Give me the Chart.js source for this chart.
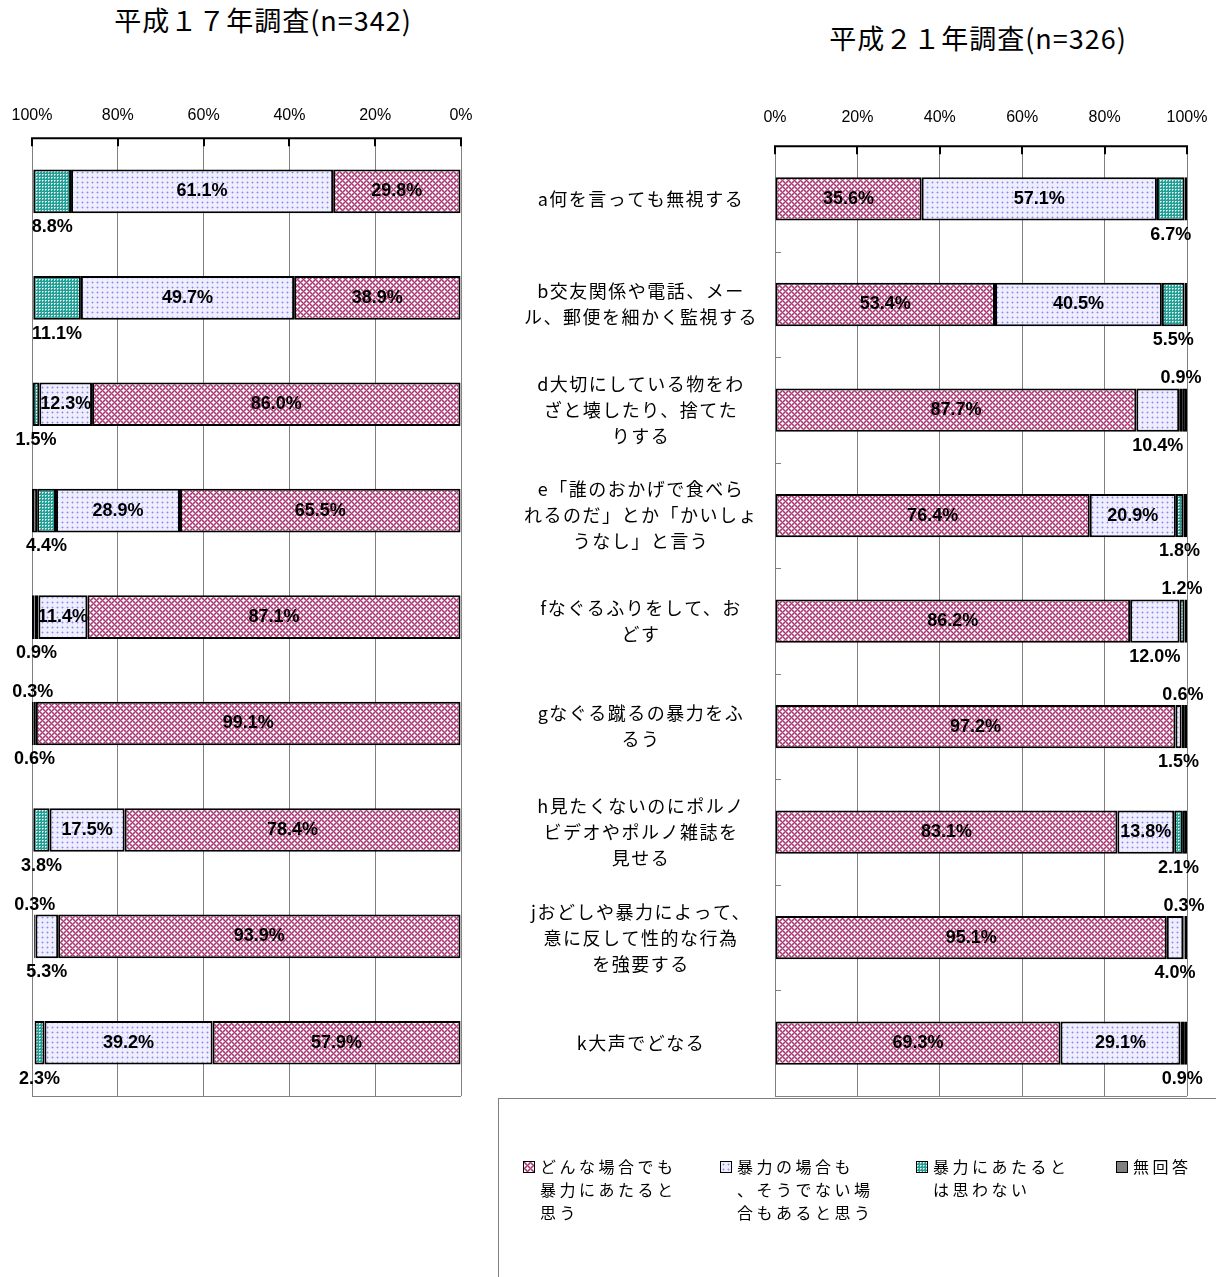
<!DOCTYPE html>
<html><head><meta charset="utf-8">
<script src="https://cdn.jsdelivr.net/npm/chart.js@4.4.1/dist/chart.umd.min.js"></script>
<style>
body{margin:0;background:#fff;width:1216px;height:1277px;overflow:hidden;position:relative;font-family:"Noto Sans CJK JP",sans-serif;color:#000;}
.title{position:absolute;font-size:27px;letter-spacing:1px;white-space:nowrap;transform:translateX(-50%);line-height:30px;}
#cl{position:absolute;left:0;top:0;}
#cr{position:absolute;left:500px;top:0;}
#legend{position:absolute;left:498px;top:1098px;width:740px;height:200px;border-top:1px solid #808080;border-left:1px solid #808080;}
.item{position:absolute;top:56px;font-size:16px;letter-spacing:3.5px;line-height:23px;white-space:nowrap;}
.sw{position:absolute;width:10px;height:10px;border:1px solid #000;left:-17px;top:6px;}
</style>
</head><body>
<div class="title" style="left:263px;top:5px;">平成１７年調査(n=342)</div>
<div class="title" style="left:978px;top:23px;">平成２１年調査(n=326)</div>
<canvas id="cl" width="480" height="1100"></canvas>
<canvas id="cr" width="716" height="1100"></canvas>
<div id="legend">
  <div class="item" style="left:41px"><span class="sw" id="sw0"></span>どんな場合でも<br>暴力にあたると<br>思う</div>
  <div class="item" style="left:238px"><span class="sw" id="sw1"></span>暴力の場合も<br>、そうでない場<br>合もあると思う</div>
  <div class="item" style="left:434px"><span class="sw" id="sw2"></span>暴力にあたると<br>は思わない</div>
  <div class="item" style="left:634px"><span class="sw" id="sw3"></span>無回答</div>
</div>
<script>
// ---------- data ----------
const CATEGORIES = [
  'a何を言っても無視する',
  ['b交友関係や電話、メー', 'ル、郵便を細かく監視する'],
  ['d大切にしている物をわ', 'ざと壊したり、捨てた', 'りする'],
  ['e「誰のおかげで食べら', 'れるのだ」とか「かいしょ', 'うなし」と言う'],
  ['fなぐるふりをして、お', 'どす'],
  ['gなぐる蹴るの暴力をふ', 'るう'],
  ['h見たくないのにポルノ', 'ビデオやポルノ雑誌を', '見せる'],
  ['jおどしや暴力によって、', '意に反して性的な行為', 'を強要する'],
  'k大声でどなる'
];
const SERIES = ['どんな場合でも暴力にあたると思う', '暴力の場合も、そうでない場合もあると思う', '暴力にあたるとは思わない', '無回答'];
const TICK_VALUES = [0, 20, 40, 60, 80, 100];

// 平成17年調査 (n=342)
const H17_ALWAYS    = [29.8, 38.9, 86.0, 65.5, 87.1, 99.1, 78.4, 93.9, 57.9];
const H17_SOMETIMES = [61.1, 49.7, 12.3, 28.9, 11.4, null, 17.5, 5.3, 39.2];
const H17_NOT       = [8.8, 11.1, 1.5, 4.4, 0.9, 0.6, 3.8, null, 2.3];
const H17_NOANSWER  = [null, null, null, 1.2, 0.6, 0.3, null, 0.3, null];

// 平成21年調査 (n=326)
const H21_ALWAYS    = [35.6, 53.4, 87.7, 76.4, 86.2, 97.2, 83.1, 95.1, 69.3];
const H21_SOMETIMES = [57.1, 40.5, 10.4, 20.9, 12.0, 1.5, 13.8, 4.0, 29.1];
const H21_NOT       = [6.7, 5.5, 0.9, 1.8, 1.2, 0.6, 2.1, 0.3, 0.9];
const H21_NOANSWER  = [0.6, 0.6, 1.0, 0.9, 0.6, 0.7, 1.0, 0.6, 0.7];

// label placement (style): 'in' | 'below' | 'above' | '' (none)
const H17_LABEL_POS = [
  ['in','in','in','in','in','in','in','in','in'],
  ['in','in','in','in','in','','in','below','in'],
  ['below','below','below','below','below','below','below','','below'],
  ['','','','','','above','','above','']
];
const H21_LABEL_POS = [
  ['in','in','in','in','in','in','in','in','in'],
  ['in','in','below','in','below','below','in','below','in'],
  ['below','below','above','below','above','above','below','above','below'],
  ['','','','','','','','','']
];

// ---------- patterns ----------
function makeTile(period, bg, pixels, reps) {
  const size = period * reps;
  const c = document.createElement('canvas');
  c.width = c.height = size;
  const x = c.getContext('2d');
  x.fillStyle = bg; x.fillRect(0, 0, size, size);
  for (let i = 0; i < reps; i++) for (let j = 0; j < reps; j++) {
    pixels.forEach(([px, py, col]) => { x.fillStyle = col; x.fillRect(i * period + px, j * period + py, 1, 1); });
  }
  return c;
}
const W = '#ffffff';
// pink: maroon diagonal lattice with white stars
const pinkPix = [];
for (let py = 0; py < 6; py++) for (let px = 0; px < 6; px++) {
  if ((px + py) % 6 === 0 || (px - py + 6) % 6 === 0) pinkPix.push([px, py, '#a33a70']);
}
[[3,0],[2,0],[4,0],[3,1],[3,5],[0,3],[1,3],[5,3],[0,2],[0,4]].forEach(([px, py]) => pinkPix.push([px, py, W]));
const tilePink = makeTile(6, '#d284ad', pinkPix, 4);
const LB = '#c4c4f8';
const tileBlue = makeTile(5, '#eeeeff', [[2,2,'#8a8af0'],[1,2,LB],[3,2,LB],[2,1,LB],[2,3,LB]], 4);
const tileTeal = makeTile(3, '#23a096', [[0,0,W],[1,0,'#9fd6d1'],[0,1,'#9fd6d1']], 6);
const tileGray = makeTile(2, '#808080', [], 8);
const TILES = [tilePink, tileBlue, tileTeal, tileGray];
TILES.forEach((t, i) => {
  document.getElementById('sw' + i).style.background = 'url(' + t.toDataURL() + ')';
});

// ---------- plugins ----------
const framePlugin = {
  id: 'frame',
  afterDraw(chart, args, opts) {
    const { ctx, chartArea: { left, right, top, bottom } } = chart;
    const xs = chart.scales.x;
    ctx.save();
    ctx.strokeStyle = '#808080'; ctx.lineWidth = 1;
    ctx.beginPath(); ctx.moveTo(left, bottom + 0.5); ctx.lineTo(right, bottom + 0.5); ctx.stroke();
    if (opts.minorTicks) {
      const ys = chart.scales.y;
      for (let i = 1; i < ys.ticks.length; i++) {
        const y = Math.round((ys.getPixelForTick(i - 1) + ys.getPixelForTick(i)) / 2) + 0.5;
        ctx.beginPath(); ctx.moveTo(left, y); ctx.lineTo(left + 6, y); ctx.stroke();
      }
    }
    ctx.strokeStyle = '#000'; ctx.lineWidth = 2;
    ctx.beginPath(); ctx.moveTo(left - 1, top); ctx.lineTo(right + 1, top); ctx.stroke();
    xs.ticks.forEach((t, i) => {
      const x = Math.round(xs.getPixelForTick(i));
      ctx.beginPath(); ctx.moveTo(x, top); ctx.lineTo(x, top + 8); ctx.stroke();
    });
    ctx.restore();
  }
};

const labelPlugin = {
  id: 'segLabels',
  afterDatasetsDraw(chart, args, opts) {
    const ctx = chart.ctx;
    ctx.save();
    ctx.font = 'bold 18px "Liberation Sans", Arial, sans-serif';
    ctx.fillStyle = '#000'; ctx.textAlign = 'center'; ctx.textBaseline = 'middle';
    chart.data.datasets.forEach((ds, di) => {
      const meta = chart.getDatasetMeta(di);
      const pos = opts.positions[di];
      meta.data.forEach((el, j) => {
        const v = ds.data[j], p = pos[j];
        if (v == null || !p) return;
        const { x, base, y, height } = el.getProps(['x', 'base', 'y', 'height'], true);
        const cx = (x + base) / 2;
        let cy = y;
        if (p === 'below') cy = y + height / 2 + 14;
        else if (p === 'above') cy = y - height / 2 - 10;
        ctx.fillText(v.toFixed(1) + '%', cx, cy);
      });
    });
    ctx.restore();
  }
};

const spacingPlugin = {
  id: 'ySpacing',
  beforeDraw(chart) {
    const ys = chart.scales.y;
    if (ys && !ys._spPatched) {
      const orig = ys.drawLabels.bind(ys);
      ys.drawLabels = function (a) {
        const c = this.ctx; const prev = c.letterSpacing;
        c.letterSpacing = '1.5px'; orig(a); c.letterSpacing = prev || '0px';
      };
      ys._spPatched = true;
    }
  }
};

function buildChart(id, series, positions, reverse, showCats, padding, tickPad) {
  const cv = document.getElementById(id);
  const ctx = cv.getContext('2d');
  const fills = TILES.map(t => ctx.createPattern(t, 'repeat'));
  return new Chart(cv, {
    type: 'bar',
    data: {
      labels: CATEGORIES,
      datasets: SERIES.map((name, i) => ({
        label: name,
        data: series[i],
        backgroundColor: fills[i],
        borderColor: '#000',
        borderWidth: 2,
        borderSkipped: false,
        barPercentage: 0.41,
        categoryPercentage: 1.0
      }))
    },
    options: {
      indexAxis: 'y',
      responsive: false,
      animation: false,
      events: [],
      layout: { padding },
      scales: {
        x: {
          position: 'top', stacked: true, min: 0, max: 100, reverse,
          afterBuildTicks: s => { s.ticks = TICK_VALUES.map(v => ({ value: v })); },
          afterFit: s => { s.paddingLeft = 0; s.paddingRight = 0; },
          ticks: {
            callback: v => v + '%', color: '#000', padding: tickPad, maxRotation: 0, minRotation: 0,
            font: { family: '"Liberation Sans", Arial, sans-serif', size: 16 }
          },
          grid: { color: '#808080', lineWidth: 1, drawTicks: false },
          border: { display: false }
        },
        y: {
          stacked: true, display: showCats,
          grid: { display: false, drawTicks: false },
          border: { display: false },
          afterFit: s => { if (showCats) s.width = 275; s.paddingTop = 0; s.paddingBottom = 0; },
          ticks: {
            autoSkip: false, crossAlign: 'center', padding: 26, color: '#000',
            font: { family: '"Noto Sans CJK JP", sans-serif', size: 18, lineHeight: 26 / 18 }
          }
        }
      },
      plugins: {
        legend: { display: false },
        tooltip: { enabled: false },
        title: { display: false },
        segLabels: { positions },
        frame: { minorTicks: showCats }
      }
    },
    plugins: [framePlugin, labelPlugin, spacingPlugin]
  });
}

buildChart('cl', [H17_ALWAYS, H17_SOMETIMES, H17_NOT, H17_NOANSWER], H17_LABEL_POS, true, false,
  { left: 32, right: 19, top: 93, bottom: 4 }, 13);
buildChart('cr', [H21_ALWAYS, H21_SOMETIMES, H21_NOT, H21_NOANSWER], H21_LABEL_POS, false, true,
  { left: 0, right: 29, top: 89, bottom: 4 }, 19);
</script>
</body></html>
